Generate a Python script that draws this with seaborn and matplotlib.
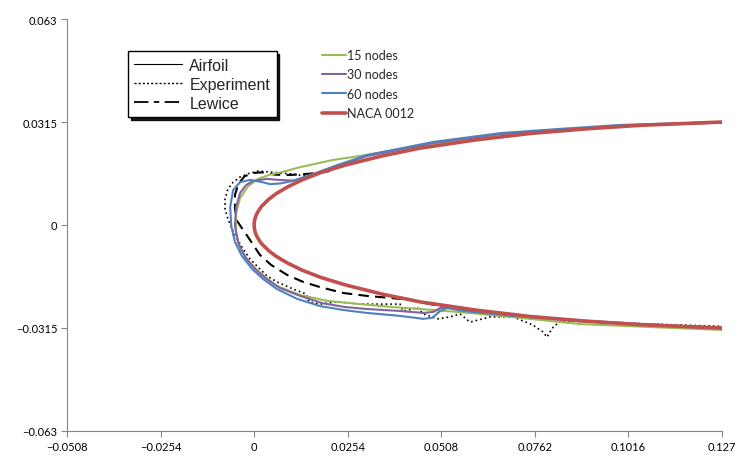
import matplotlib
matplotlib.use('Agg')
import matplotlib.pyplot as plt
from matplotlib.lines import Line2D
import seaborn as sns

# NACA 0012 upper half (trailing edge -> leading edge)
naca_x = [0.127, 0.105, 0.09, 0.075, 0.06, 0.045, 0.035, 0.025, 0.018, 0.013,
          0.009, 0.006, 0.004, 0.002, 0.001, 0.0005, 0.0002, 0.00005, 0.0]
naca_y = [0.0315, 0.0305, 0.0294, 0.0280, 0.0260, 0.0235, 0.0212, 0.0184, 0.0160, 0.0138,
          0.0116, 0.0096, 0.0079, 0.0057, 0.0040, 0.0029, 0.0018, 0.0009, 0.0]

# ice shapes, upper trailing side -> leading edge -> lower trailing side
n15_x = [0.1270, 0.0993, 0.0831, 0.0668, 0.0486, 0.0350, 0.0269, 0.0214, 0.0166, 0.0125,
         0.0076, 0.0043, 0.0011, -0.0016, -0.0038, -0.0049, -0.0049, -0.0038, -0.0016, 0.0011,
         0.0062, 0.0125, 0.0198, 0.0288, 0.0377, 0.0486, 0.0586, 0.0722, 0.0885, 0.1075, 0.1270]
n15_y = [0.0315, 0.0303, 0.0292, 0.0278, 0.0249, 0.0223, 0.0208, 0.0199, 0.0187, 0.0177,
         0.0162, 0.0154, 0.0141, 0.0119, 0.0083, 0.0034, -0.0028, -0.0073, -0.0110, -0.0141,
         -0.0187, -0.0214, -0.0232, -0.0242, -0.0251, -0.0260, -0.0269, -0.0284, -0.0303, -0.0312, -0.0321]

n30_x = [0.1270, 0.0993, 0.0831, 0.0668, 0.0486, 0.0307, 0.0225, 0.0152, 0.0106, 0.0065,
         0.0035, -0.0003, -0.0022, -0.0038, -0.0049, -0.0052, -0.0043, -0.0024, 0.0003, 0.0033,
         0.0071, 0.0125, 0.0185, 0.0247, 0.0307, 0.0396, 0.0459, 0.0486, 0.0505, 0.0532,
         0.0567, 0.0703, 0.0885, 0.1075, 0.1270]
n30_y = [0.0313, 0.0303, 0.0291, 0.0278, 0.0251, 0.0211, 0.0180, 0.0150, 0.0136, 0.0138,
         0.0141, 0.0135, 0.0122, 0.0098, 0.0055, -0.0003, -0.0055, -0.0098, -0.0135, -0.0165,
         -0.0193, -0.0217, -0.0239, -0.0251, -0.0257, -0.0263, -0.0269, -0.0266, -0.0254, -0.0251,
         -0.0260, -0.0275, -0.0292, -0.0304, -0.0315]

n60_x = [0.1270, 0.0993, 0.0831, 0.0668, 0.0486, 0.0307, 0.0225, 0.0152, 0.0106, 0.0071,
         0.0043, 0.0022, -0.0011, -0.0038, -0.0057, -0.0065, -0.0062, -0.0052, -0.0033, -0.0005,
         0.0024, 0.0062, 0.0117, 0.0179, 0.0242, 0.0307, 0.0396, 0.0459, 0.0483, 0.0505,
         0.0524, 0.0567, 0.0703, 0.0885, 0.1075, 0.1270]
n60_y = [0.0315, 0.0306, 0.0294, 0.0281, 0.0254, 0.0214, 0.0183, 0.0153, 0.0135, 0.0127,
         0.0125, 0.0131, 0.0138, 0.0131, 0.0107, 0.0055, -0.0003, -0.0052, -0.0095, -0.0135,
         -0.0165, -0.0196, -0.0226, -0.0248, -0.0260, -0.0269, -0.0278, -0.0287, -0.0284, -0.0263,
         -0.0254, -0.0263, -0.0278, -0.0294, -0.0306, -0.0315]

exp_x = [0.0138, 0.0103, 0.0071, 0.0043, 0.0011, -0.0016, -0.0038, -0.0057, -0.0071, -0.0079,
         -0.0079, -0.0071, -0.0060, -0.0046, -0.0030, -0.0011, 0.0016, 0.0035, 0.0062, 0.0106,
         0.0141, 0.0149, 0.0179, 0.0225, 0.0288, 0.0342, 0.0396, 0.0404, 0.0432, 0.0442,
         0.0459, 0.0499, 0.0532, 0.0559, 0.0586, 0.0641, 0.0703, 0.0757, 0.0784, 0.0795,
         0.0803, 0.0812, 0.0831, 0.0939, 0.1075, 0.1270]
exp_y = [0.0150, 0.0156, 0.0159, 0.0162, 0.0165, 0.0157, 0.0147, 0.0131, 0.0110, 0.0080,
         0.0049, 0.0018, -0.0012, -0.0043, -0.0073, -0.0104, -0.0135, -0.0156, -0.0174, -0.0196,
         -0.0211, -0.0235, -0.0242, -0.0235, -0.0242, -0.0242, -0.0242, -0.0263, -0.0257, -0.0251,
         -0.0272, -0.0287, -0.0281, -0.0272, -0.0297, -0.0281, -0.0281, -0.0306, -0.0327, -0.0343,
         -0.0327, -0.0312, -0.0294, -0.0296, -0.0303, -0.0310]

lew_x = [0.0206, 0.0152, 0.0098, 0.0057, 0.0022, -0.0005, -0.0027, -0.0043, -0.0052, -0.0052,
         -0.0046, -0.0030, -0.0011, 0.0016, 0.0046, 0.0090, 0.0133, 0.0179, 0.0242, 0.0307,
         0.0369, 0.0423, 0.0478, 0.0532]
lew_y = [0.0165, 0.0157, 0.0153, 0.0154, 0.0161, 0.0159, 0.0148, 0.0125, 0.0092, 0.0049,
         0.0012, -0.0015, -0.0046, -0.0092, -0.0122, -0.0153, -0.0174, -0.0190, -0.0208, -0.0217,
         -0.0223, -0.0229, -0.0242, -0.0254]

x_ticks = [-0.0508, -0.0254, 0, 0.0254, 0.0508, 0.0762, 0.1016, 0.127]
x_labels = ['\u22120.0508', '\u22120.0254', '0', '0.0254', '0.0508', '0.0762', '0.1016', '0.127']
y_ticks = [-0.063, -0.0315, 0, 0.0315, 0.063]
y_labels = ['\u22120.063', '\u22120.0315', '0', '0.0315', '0.063']

green = '#9BBB59'
purple = '#8064A2'
blue = '#4F81BD'
red = '#C0504D'

sns.set_style('white')
plt.rcParams['font.family'] = ['Lato', 'DejaVu Sans']

fig = plt.figure(figsize=(7.4, 4.6), dpi=100)
ax = fig.add_axes([0.0905, 0.0609, 0.8852, 0.8956])

full_x = naca_x + naca_x[::-1][1:]
full_y = naca_y + [-v for v in naca_y[::-1][1:]]

sns.lineplot(x=full_x, y=full_y, sort=False, estimator=None, ax=ax, color='black', lw=0.8)
sns.lineplot(x=exp_x, y=exp_y, sort=False, estimator=None, ax=ax, color='black', lw=1.2,
             linestyle=(0, (1, 1.8)))
sns.lineplot(x=lew_x, y=lew_y, sort=False, estimator=None, ax=ax, color='black', lw=1.5,
             linestyle=(0, (5, 3)))
sns.lineplot(x=n15_x, y=n15_y, sort=False, estimator=None, ax=ax, color=green, lw=1.5)
sns.lineplot(x=n30_x, y=n30_y, sort=False, estimator=None, ax=ax, color=purple, lw=1.5)
sns.lineplot(x=n60_x, y=n60_y, sort=False, estimator=None, ax=ax, color=blue, lw=1.5)
sns.lineplot(x=full_x, y=full_y, sort=False, estimator=None, ax=ax, color=red, lw=2.6)

ax.set_xlim(-0.0508, 0.127)
ax.set_ylim(-0.063, 0.063)
ax.set_xticks(x_ticks)
ax.set_xticklabels(x_labels)
ax.set_yticks(y_ticks)
ax.set_yticklabels(y_labels)
ax.tick_params(axis='both', direction='out', length=4, width=0.8, color='#868686',
               labelsize=8, pad=3, labelcolor='black')
ax.tick_params(axis='x', bottom=True)
ax.tick_params(axis='y', left=True)
for s in ['top', 'right']:
    ax.spines[s].set_visible(False)
for s in ['left', 'bottom']:
    ax.spines[s].set_color('#868686')
    ax.spines[s].set_linewidth(0.8)
ax.set_xlabel('')
ax.set_ylabel('')

# left legend: airfoil / experiment / lewice
h1 = [Line2D([], [], color='black', lw=0.8),
      Line2D([], [], color='black', lw=1.0, linestyle=(0, (1.5, 1.5))),
      Line2D([], [], color='black', lw=1.3, linestyle=(0, (8, 3, 3, 3)))]
leg1 = ax.legend(h1, ['Airfoil', 'Experiment', 'Lewice'], loc='upper left',
                 bbox_to_anchor=(0.093, 0.922), borderaxespad=0, frameon=True,
                 fancybox=False, shadow={'color': 'black', 'alpha': 0.9},
                 edgecolor='black', handlelength=3.0, handletextpad=0.45,
                 labelspacing=0.26, borderpad=0.4,
                 prop={'family': 'Liberation Sans', 'size': 11.5})
leg1.get_frame().set_linewidth(1.0)
ax.add_artist(leg1)

h2 = [Line2D([], [], color=green, lw=1.5),
      Line2D([], [], color=purple, lw=1.5),
      Line2D([], [], color=blue, lw=1.5),
      Line2D([], [], color=red, lw=2.6)]
ax.legend(h2, ['15 nodes', '30 nodes', '60 nodes', 'NACA 0012'], loc='upper left',
          bbox_to_anchor=(0.389, 0.927), borderaxespad=0, frameon=False,
          handlelength=1.9, handletextpad=0.1, labelspacing=0.59, borderpad=0,
          prop={'size': 9})

fig.savefig('out.png', dpi=100)
